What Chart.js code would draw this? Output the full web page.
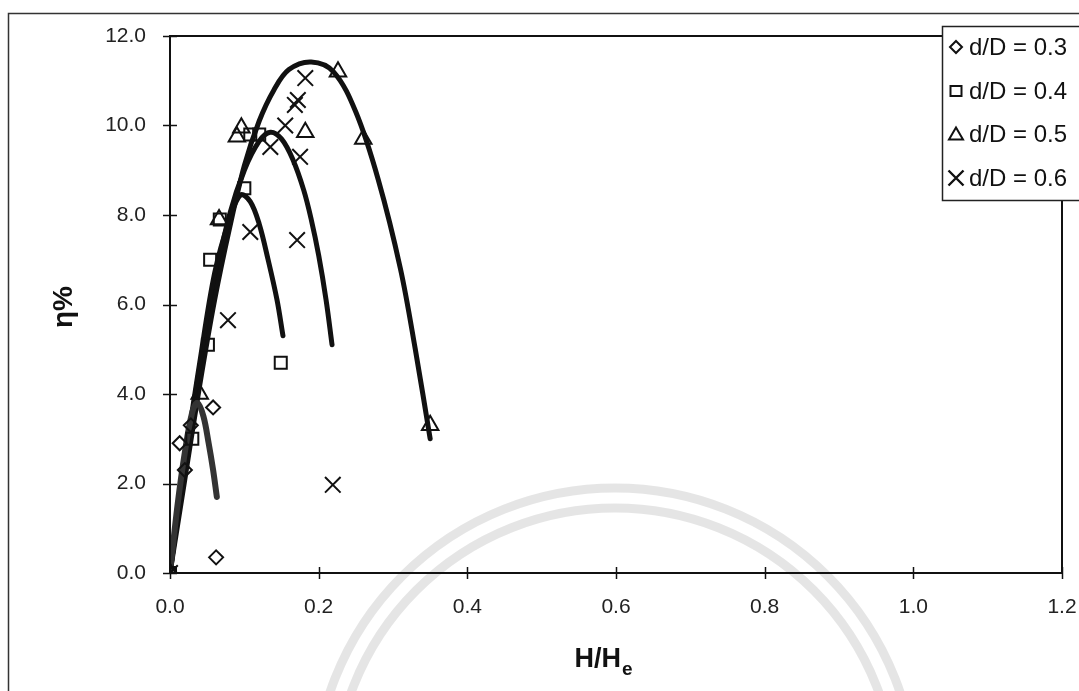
<!DOCTYPE html>
<html>
<head>
<meta charset="utf-8">
<script src="https://cdn.jsdelivr.net/npm/chart.js@4/dist/chart.umd.min.js"></script>
<style>
html,body{margin:0;padding:0;background:#fff;}
#wrap{position:relative;width:1079px;height:691px;}
</style>
</head>
<body>
<div id="wrap"><canvas id="c" width="1079" height="691"></canvas></div>
<script>
// ---- data ----
const seriesLabels = ['d/D = 0.3', 'd/D = 0.4', 'd/D = 0.5', 'd/D = 0.6'];
const xTickValues = [0.0, 0.2, 0.4, 0.6, 0.8, 1.0, 1.2];
const yTickValues = [0.0, 2.0, 4.0, 6.0, 8.0, 10.0, 12.0];

// measured points
const d03X = [0, 0.013, 0.020, 0.028, 0.058, 0.062];
const d03Y = [0, 2.9, 2.3, 3.3, 3.7, 0.35];
const d04X = [0, 0.030, 0.051, 0.054, 0.067, 0.100, 0.108, 0.120, 0.149];
const d04Y = [0, 3.0, 5.1, 7.0, 7.9, 8.6, 9.8, 9.8, 4.7];
const d05X = [0, 0.040, 0.066, 0.090, 0.096, 0.182, 0.226, 0.260, 0.350];
const d05Y = [0, 4.0, 7.9, 9.75, 9.95, 9.85, 11.2, 9.7, 3.3];
const d06X = [0, 0.078, 0.108, 0.135, 0.155, 0.168, 0.172, 0.175, 0.171, 0.182, 0.219];
const d06Y = [0, 5.65, 7.62, 9.52, 10.0, 10.46, 10.57, 9.3, 7.44, 11.06, 1.97];

// fitted curves (traced)
const c03X = [0, 0.010, 0.020, 0.030, 0.037, 0.045, 0.052, 0.058, 0.063];
const c03Y = [0, 1.5, 2.7, 3.6, 3.8, 3.5, 2.9, 2.3, 1.7];
const c04X = [0, 0.020, 0.040, 0.060, 0.080, 0.095, 0.108, 0.120, 0.132, 0.144, 0.152];
const c04Y = [0, 2.5, 4.7, 6.7, 7.9, 8.45, 8.3, 7.8, 7.0, 6.1, 5.3];
const c05X = [0, 0.02, 0.04, 0.06, 0.08, 0.10, 0.12, 0.14, 0.16, 0.19, 0.22, 0.25, 0.28, 0.31, 0.33, 0.35];
const c05Y = [0, 2.1, 4.2, 6.1, 7.7, 9.1, 10.1, 10.8, 11.25, 11.42, 11.2, 10.3, 8.8, 6.8, 5.0, 3.0];
const c06X = [0, 0.02, 0.04, 0.06, 0.08, 0.10, 0.12, 0.135, 0.15, 0.165, 0.18, 0.19, 0.20, 0.21, 0.218];
const c06Y = [0, 2.4, 4.6, 6.5, 8.0, 9.0, 9.65, 9.85, 9.7, 9.25, 8.55, 7.9, 7.1, 6.1, 5.1];

const pts = (xs, ys) => xs.map((x, i) => ({x: x, y: ys[i]}));
const INK = '#111';

function curve(xs, ys, color, w) {
  return {type: 'line', data: pts(xs, ys), showLine: true, pointRadius: 0, borderColor: color,
    borderWidth: w, tension: 0.35, fill: false, order: 2, label: '', borderCapStyle: 'round', borderJoinStyle: 'round'};
}
function marks(xs, ys, style, r, label) {
  return {type: 'scatter', data: pts(xs, ys), showLine: false, pointStyle: style, pointRadius: r,
    pointBorderColor: INK, pointBackgroundColor: 'rgba(255,255,255,0)', pointBorderWidth: 2,
    order: 1, label: label};
}

const legendMarks = ['diamond', 'square', 'triangle', 'cross'];

function drawMark(ctx, kind, x, y) {
  ctx.save();
  ctx.strokeStyle = INK; ctx.lineWidth = 2; ctx.beginPath();
  if (kind === 'diamond') { ctx.moveTo(x, y - 6); ctx.lineTo(x + 6, y); ctx.lineTo(x, y + 6); ctx.lineTo(x - 6, y); ctx.closePath(); }
  else if (kind === 'square') { ctx.rect(x - 5.5, y - 5, 11, 10); }
  else if (kind === 'triangle') { ctx.moveTo(x, y - 6.5); ctx.lineTo(x + 7, y + 5.5); ctx.lineTo(x - 7, y + 5.5); ctx.closePath(); }
  else { ctx.lineWidth = 2.4; ctx.moveTo(x - 7.5, y - 7.5); ctx.lineTo(x + 7.5, y + 7.5); ctx.moveTo(x + 7.5, y - 7.5); ctx.lineTo(x - 7.5, y + 7.5); }
  ctx.stroke(); ctx.restore();
}

const decor = {
  id: 'decor',
  beforeDraw(chart) {
    const ctx = chart.ctx;
    ctx.save();
    ctx.fillStyle = '#fff'; ctx.fillRect(0, 0, chart.width, chart.height);
    // faint seal watermark
    ctx.strokeStyle = 'rgba(0,0,0,0.10)'; ctx.lineWidth = 9;
    ctx.beginPath(); ctx.arc(615, 789, 301, Math.PI, 2 * Math.PI); ctx.stroke();
    ctx.beginPath(); ctx.arc(615, 789, 281, Math.PI, 2 * Math.PI); ctx.stroke();
    // outer frame
    ctx.strokeStyle = '#333'; ctx.lineWidth = 1.5;
    ctx.beginPath(); ctx.moveTo(8.5, 691); ctx.lineTo(8.5, 13.5); ctx.lineTo(1079, 13.5); ctx.stroke();
    ctx.restore();
  },
  afterDraw(chart) {
    const ctx = chart.ctx, a = chart.chartArea;
    const xs = chart.scales.x, ys = chart.scales.y;
    ctx.save();
    ctx.strokeStyle = INK; ctx.lineWidth = 2;
    ctx.strokeRect(a.left, a.top, a.right - a.left, a.bottom - a.top);
    ctx.lineWidth = 1.5;
    xTickValues.forEach(v => { const p = Math.round(xs.getPixelForValue(v)) + 0.5; ctx.beginPath(); ctx.moveTo(p, a.bottom - 6); ctx.lineTo(p, a.bottom + 6); ctx.stroke(); });
    yTickValues.forEach(v => { const p = Math.round(ys.getPixelForValue(v)) + 0.5; ctx.beginPath(); ctx.moveTo(a.left - 7, p); ctx.lineTo(a.left + 7, p); ctx.stroke(); });
    // axis titles
    ctx.fillStyle = INK;
    ctx.save();
    ctx.translate(64, 307); ctx.rotate(-Math.PI / 2);
    ctx.font = 'bold 28px "Liberation Sans", Arial, sans-serif';
    ctx.textAlign = 'center'; ctx.textBaseline = 'middle';
    ctx.fillText('η%', 0, 0);
    ctx.restore();
    ctx.font = 'bold 27px "Liberation Sans", Arial, sans-serif';
    const main = 'H/H', wMain = ctx.measureText(main).width;
    ctx.font = 'bold 19px "Liberation Sans", Arial, sans-serif';
    const wSub = ctx.measureText('e').width;
    const x0 = 603 - (wMain + wSub) / 2;
    ctx.textAlign = 'left'; ctx.textBaseline = 'alphabetic';
    ctx.font = 'bold 27px "Liberation Sans", Arial, sans-serif';
    ctx.fillText(main, x0, 667);
    ctx.font = 'bold 19px "Liberation Sans", Arial, sans-serif';
    ctx.fillText('e', x0 + wMain + 1, 675);
    // legend
    ctx.fillStyle = '#fff';
    ctx.fillRect(942, 26, 140, 174);
    ctx.strokeStyle = '#222'; ctx.lineWidth = 1.5;
    ctx.strokeRect(942.5, 26.5, 150, 174);
    const rows = [47, 91, 134, 178];
    ctx.fillStyle = INK; ctx.font = '24px "Liberation Sans", Arial, sans-serif';
    ctx.textAlign = 'left'; ctx.textBaseline = 'middle';
    seriesLabels.forEach((lab, i) => {
      drawMark(ctx, legendMarks[i], 956, rows[i]);
      ctx.fillText(lab, 969, rows[i] + 1);
    });
    ctx.restore();
  }
};

new Chart(document.getElementById('c'), {
  type: 'scatter',
  data: {
    datasets: [
      curve(c03X, c03Y, '#333', 6),
      curve(c04X, c04Y, '#111', 5),
      curve(c05X, c05Y, '#111', 5),
      curve(c06X, c06Y, '#111', 5),
      marks(d03X, d03Y, 'rectRot', 7, seriesLabels[0]),
      marks(d04X, d04Y, 'rect', 8.5, seriesLabels[1]),
      marks(d05X, d05Y, 'triangle', 9.5, seriesLabels[2]),
      marks(d06X, d06Y, 'crossRot', 11, seriesLabels[3])
    ]
  },
  options: {
    responsive: false, animation: false, devicePixelRatio: 1,
    layout: {padding: {left: 0, top: 36, right: 17, bottom: 0}},
    plugins: {legend: {display: false}, tooltip: {enabled: false}},
    scales: {
      x: {type: 'linear', min: 0, max: 1.2,
        afterBuildTicks: s => { s.ticks = xTickValues.map(v => ({value: v})); },
        afterFit: s => { s.height = 118; s.paddingLeft = 0; s.paddingRight = 0; },
        grid: {display: false, drawTicks: false}, border: {display: false},
        ticks: {padding: 22, color: '#222', font: {family: '"Liberation Sans", Arial, sans-serif', size: 21},
          callback: v => Number(v).toFixed(1), maxRotation: 0, autoSkip: false}},
      y: {type: 'linear', min: 0, max: 12,
        afterBuildTicks: s => { s.ticks = yTickValues.map(v => ({value: v})); },
        afterFit: s => { s.width = 170; s.paddingTop = 0; s.paddingBottom = 0; },
        grid: {display: false, drawTicks: false}, border: {display: false},
        ticks: {padding: 24, color: '#222', font: {family: '"Liberation Sans", Arial, sans-serif', size: 21},
          callback: v => Number(v).toFixed(1)}}
    }
  },
  plugins: [decor]
});
</script>
</body>
</html>
